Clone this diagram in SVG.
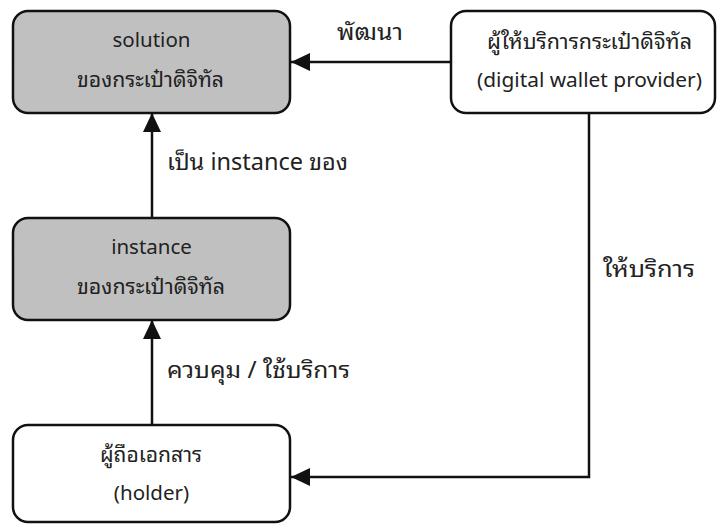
<svg xmlns="http://www.w3.org/2000/svg" width="718" height="524" viewBox="0 0 718 524">
  <style>
    .box { stroke: #111; stroke-width: 2.5; }
    .shaded { fill: #c0c0c0; }
    .plain { fill: #ffffff; }
    .lbl { font-family: "Noto Sans Thai Looped", "Noto Sans Thai", "Noto Sans", "DejaVu Sans", sans-serif; font-size: 20.5px; fill: #222; }
    .edge-lbl { font-size: 23px; }
    .mid { text-anchor: middle; }
    .wire { fill: none; stroke: #111; stroke-width: 2.5; }
  </style>
  <defs>
    <marker id="head" viewBox="0 0 19 18" refX="19" refY="9" markerWidth="19" markerHeight="18" markerUnits="userSpaceOnUse" orient="auto">
      <path d="M0,0 L19,9 L0,18 Z" fill="#111"/>
    </marker>
  </defs>
  <rect width="718" height="524" fill="#ffffff"/>

  <g id="connectors">
    <path class="wire" d="M450,62 L291,62" marker-end="url(#head)"/>
    <path class="wire" d="M152,218 L152,113" marker-end="url(#head)"/>
    <path class="wire" d="M152,425 L152,320" marker-end="url(#head)"/>
    <path class="wire" d="M589,113 L589,477 L291,477" marker-end="url(#head)"/>
    <text class="lbl edge-lbl" x="337" y="40" textLength="66" lengthAdjust="spacingAndGlyphs">พัฒนา</text>
    <text class="lbl edge-lbl" x="167" y="170" textLength="181" lengthAdjust="spacingAndGlyphs">เป็น instance ของ</text>
    <text class="lbl edge-lbl" x="167" y="378" textLength="183" lengthAdjust="spacingAndGlyphs">ควบคุม / ใช้บริการ</text>
    <text class="lbl edge-lbl" x="603" y="277" textLength="92" lengthAdjust="spacingAndGlyphs">ให้บริการ</text>
  </g>

  <g id="solution">
    <rect class="box shaded" x="13" y="11" width="277" height="102" rx="15"/>
    <text class="lbl mid" x="151.5" y="47">solution</text>
    <text class="lbl mid" x="150.5" y="87" textLength="147" lengthAdjust="spacingAndGlyphs">ของกระเป๋าดิจิทัล</text>
  </g>

  <g id="provider">
    <rect class="box plain" x="451" y="11" width="264" height="102" rx="15"/>
    <text class="lbl mid" x="589.5" y="49" textLength="205" lengthAdjust="spacingAndGlyphs">ผู้ให้บริการกระเป๋าดิจิทัล</text>
    <text class="lbl mid" x="589.5" y="87" textLength="225" lengthAdjust="spacingAndGlyphs">(digital wallet provider)</text>
  </g>

  <g id="instance">
    <rect class="box shaded" x="13" y="218" width="277" height="102" rx="15"/>
    <text class="lbl mid" x="151.5" y="254">instance</text>
    <text class="lbl mid" x="151" y="294" textLength="148" lengthAdjust="spacingAndGlyphs">ของกระเป๋าดิจิทัล</text>
  </g>

  <g id="holder">
    <rect class="box plain" x="13" y="425" width="277" height="97" rx="15"/>
    <text class="lbl mid" x="151" y="462" textLength="102" lengthAdjust="spacingAndGlyphs">ผู้ถือเอกสาร</text>
    <text class="lbl mid" x="151.5" y="500">(holder)</text>
  </g>
</svg>
